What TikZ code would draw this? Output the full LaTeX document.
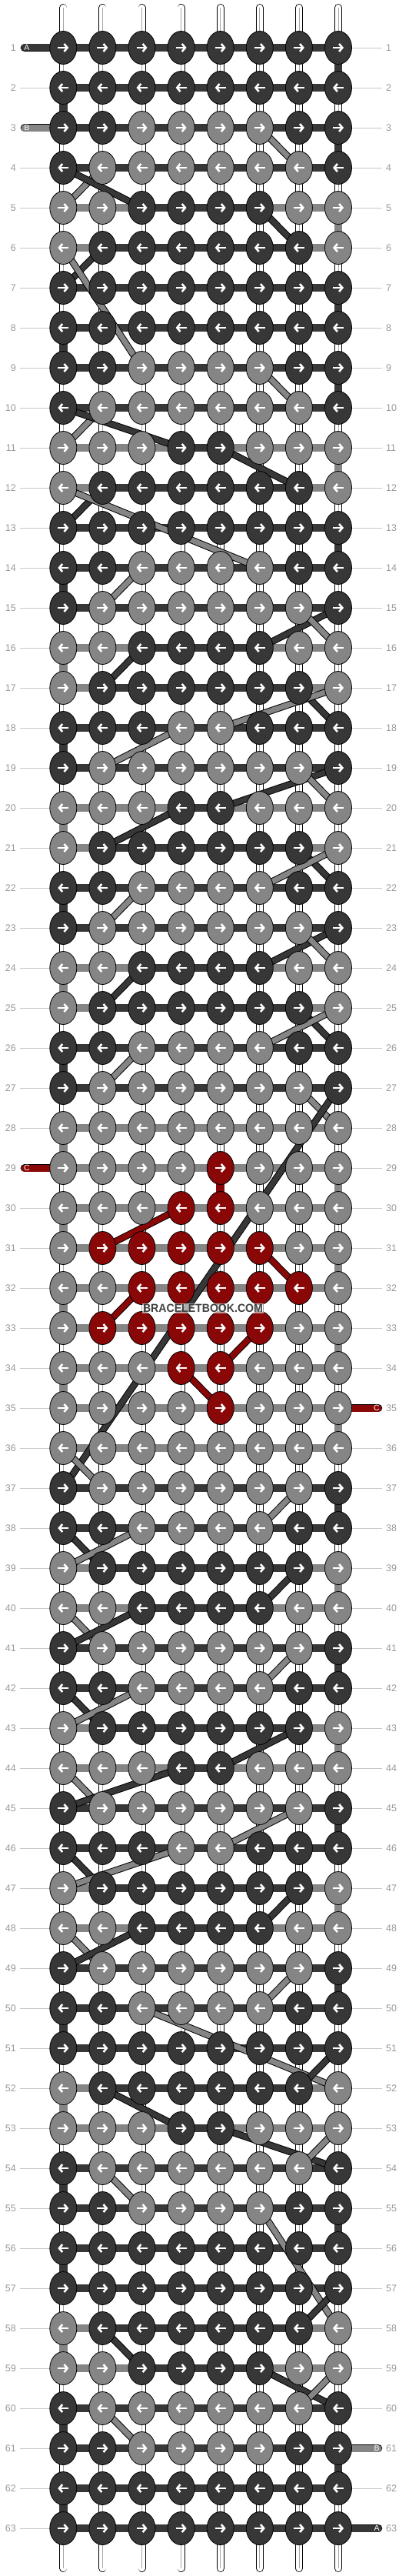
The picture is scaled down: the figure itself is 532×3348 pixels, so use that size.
\documentclass[tikz,border=0pt]{standalone}
\usepackage{fontspec}
\setmainfont{Liberation Sans}
\usetikzlibrary{shapes.geometric, arrows.meta, positioning}
\definecolor{col1}{HTML}{373737}
\definecolor{col2}{HTML}{858585}
\definecolor{col3}{HTML}{8A0707}
\definecolor{numgray}{HTML}{999999}
\definecolor{linegray}{HTML}{C8C8C8}
\pgfdeclarelayer{strings}
\pgfdeclarelayer{bars}
\pgfdeclarelayer{jumps}
\pgfsetlayers{strings,bars,jumps,main}

\begin{document}
\begin{tikzpicture}[x=1pt, y=-1pt,
    knot/.style={ellipse, draw=black, line width=0.8pt, minimum width=35pt,
        minimum height=43pt, inner sep=0pt},
    knotarrow/.style={draw=white, line width=2.6pt, -{Straight Barb[length=4.2pt, width=10pt]}},
    rowno/.style={text=numgray, font=\fontsize{12.5}{14}\selectfont, inner sep=0pt},
    rowline/.style={draw=linegray, line width=0.9pt},
    bar/.style={line width=9.5pt},
    turn/.style={line width=10.5pt},
    jumpout/.style={draw=black, line width=9pt},
    jumpin/.style={line width=7pt},
    stringout/.style={draw=black, line width=10pt, line cap=round},
    stringin/.style={draw=white, line width=8.4pt, line cap=round},
    stringmid/.style={draw=black!35, line width=0.7pt},
    tailout/.style={draw=black, line width=10.5pt, line cap=round},
    tailin/.style={line width=9pt, line cap=round},
    taillabel/.style={text=white, font=\fontsize{10.5}{12}\selectfont, inner sep=0pt},
    watermark/.style={font=\bfseries\fontsize{15}{15}\selectfont, text=col1!95,
        fill=white, fill opacity=0.6, text opacity=1, inner sep=1.2pt}]

  \useasboundingbox (0,0) rectangle (532,3348);

  % knots, row by row (1 = dark, 2 = grey, 3 = red)
  \foreach [count=\r] \row in {
      {1,1,1,1,1,1,1,1}, {1,1,1,1,1,1,1,1}, {1,1,2,2,2,2,1,1}, {1,2,2,2,2,2,2,1},
      {2,2,1,1,1,1,2,2}, {2,1,1,1,1,1,1,2}, {1,1,1,1,1,1,1,1}, {1,1,1,1,1,1,1,1},
      {1,1,2,2,2,2,1,1}, {1,2,2,2,2,2,2,1}, {2,2,2,1,1,2,2,2}, {2,1,1,1,1,1,1,2},
      {1,1,1,1,1,1,1,1}, {1,1,2,2,2,2,1,1}, {1,2,2,2,2,2,2,1}, {2,2,1,1,1,1,2,2},
      {2,1,1,1,1,1,1,2}, {1,1,1,2,2,1,1,1}, {1,2,2,2,2,2,2,1}, {2,2,2,1,1,2,2,2},
      {2,1,1,1,1,1,1,2}, {1,1,2,2,2,2,1,1}, {1,2,2,2,2,2,2,1}, {2,2,1,1,1,1,2,2},
      {2,1,1,1,1,1,1,2}, {1,1,2,2,2,2,1,1}, {1,2,2,2,2,2,2,1}, {2,2,2,2,2,2,2,2},
      {2,2,2,2,3,2,2,2}, {2,2,2,3,3,2,2,2}, {2,3,3,3,3,3,2,2}, {2,2,3,3,3,3,3,2},
      {2,3,3,3,3,3,2,2}, {2,2,2,3,3,2,2,2}, {2,2,2,2,3,2,2,2}, {2,2,2,2,2,2,2,2},
      {1,2,2,2,2,2,2,1}, {1,1,2,2,2,2,1,1}, {2,1,1,1,1,1,1,2}, {2,2,1,1,1,1,2,2},
      {1,2,2,2,2,2,2,1}, {1,1,2,2,2,2,1,1}, {2,1,1,1,1,1,1,2}, {2,2,2,1,1,2,2,2},
      {1,2,2,2,2,2,2,1}, {1,1,1,2,2,1,1,1}, {2,1,1,1,1,1,1,2}, {2,2,1,1,1,1,2,2},
      {1,2,2,2,2,2,2,1}, {1,1,2,2,2,2,1,1}, {1,1,1,1,1,1,1,1}, {2,1,1,1,1,1,1,2},
      {2,2,2,1,1,2,2,2}, {1,2,2,2,2,2,2,1}, {1,1,2,2,2,2,1,1}, {1,1,1,1,1,1,1,1},
      {1,1,1,1,1,1,1,1}, {2,1,1,1,1,1,1,2}, {2,2,1,1,1,1,2,2}, {1,2,2,2,2,2,2,1},
      {1,1,2,2,2,2,1,1}, {1,1,1,1,1,1,1,1}, {1,1,1,1,1,1,1,1}}{
    \pgfmathsetmacro\yy{62+(\r-1)*52}
    \pgfmathsetmacro\sg{mod(\r,2)==1 ? 1 : -1}
    \coordinate (el-\r) at (26,\yy);
    \coordinate (er-\r) at (497,\yy);
    \node[rowno, anchor=east] (nl-\r) at (21,\yy) {\r};
    \node[rowno, anchor=west] (nr-\r) at (502,\yy) {\r};
    \foreach [count=\c] \k in \row {
      \node[knot, fill=col\k] (k-\r-\c) at ({82.3+(\c-1)*51.1},\yy) {};
      \draw[knotarrow] (k-\r-\c.center) ++({-7*(\sg)},0) -- ++({14*(\sg)},0);
      \expandafter\xdef\csname kc-\r-\c\endcsname{\k}
    }
  }

  % base strings and row guide lines
  \begin{pgfonlayer}{strings}
    \foreach \c in {1,...,8} {
      \coordinate (st-\c) at ({82.3+(\c-1)*51.1},10);
      \coordinate (sb-\c) at ({82.3+(\c-1)*51.1},3338);
      \draw[stringout] (st-\c) -- (sb-\c);
      \draw[stringin] (st-\c) -- (sb-\c);
      \draw[stringmid] (st-\c) -- (sb-\c);
    }
    \foreach \r in {1,...,63} {
      \draw[rowline] (el-\r) -- (k-\r-1.center);
      \draw[rowline] (k-\r-8.center) -- (er-\r);
    }
  \end{pgfonlayer}

  % carried threads
  \begin{pgfonlayer}{bars}
    \foreach \r in {1,...,63} {
      \edef\kf{\csname kc-\r-1\endcsname}
      \foreach \c [evaluate=\c as \n using int(\c+1)] in {1,...,7} {
        \edef\ka{\csname kc-\r-\c\endcsname}
        \edef\kb{\csname kc-\r-\n\endcsname}
        \pgfmathtruncatemacro\bc{or(\kf==1, and(\ka==1, \kb==1)) ? 1 : 2}
        \draw[bar, draw=col\bc] (k-\r-\c.center) -- (k-\r-\n.center);
      }
    }
    % turns at the edges
    \foreach \r/\c/\k [evaluate=\r as \n using int(\r+1)] in {1/8/1, 2/1/1, 3/8/1,
        5/8/2, 7/8/1, 8/1/1, 9/8/1, 11/8/2, 13/8/1, 14/1/1, 16/1/2, 18/1/1, 20/1/2,
        22/1/1, 24/1/2, 26/1/1, 28/1/2, 29/8/2, 29/5/3, 30/1/2, 31/8/2, 32/1/2,
        33/8/2, 34/1/2, 35/8/2, 37/8/1, 39/8/2, 41/8/1, 43/8/2, 45/8/1, 47/8/2,
        49/8/1, 50/1/1, 52/1/2, 54/1/1, 55/8/1, 56/1/1, 58/1/2, 60/1/1, 61/8/1, 62/1/1}
      \draw[turn, draw=col\k] (k-\r-\c.center) -- (k-\n-\c.center);
    % loose ends
    \foreach \r/\k/\t in {1/1/A, 3/2/B, 29/3/C} {
      \coordinate (tl-\r) at (32,{62+(\r-1)*52});
      \draw[tailout] (tl-\r) -- (k-\r-1.center);
      \draw[tailin, draw=col\k] (tl-\r) -- (k-\r-1.center);
      \node[taillabel] (ll-\r) at (35,{62+(\r-1)*52}) {\t};
    }
    \foreach \r/\k/\t in {35/3/C, 61/2/B, 63/1/A} {
      \coordinate (tr-\r) at (492,{62+(\r-1)*52});
      \draw[tailout] (k-\r-8.center) -- (tr-\r);
      \draw[tailin, draw=col\k] (k-\r-8.center) -- (tr-\r);
      \node[taillabel] (lr-\r) at (490,{62+(\r-1)*52}) {\t};
    }
  \end{pgfonlayer}

  % threads jumping between rows
  \begin{pgfonlayer}{jumps}
    \foreach \ra/\ca/\rb/\cb/\k in {3/6/4/7/2, 4/2/5/1/2, 4/1/5/3/1, 5/6/6/7/1,
        6/2/7/1/1, 6/1/9/3/2, 9/6/10/7/2, 10/2/11/1/2, 10/1/11/4/1, 11/5/12/7/1,
        12/2/13/1/1, 12/1/14/6/2, 14/3/15/2/2, 15/8/16/6/1, 15/7/16/8/2, 16/3/17/2/1,
        17/7/18/8/1, 17/8/18/5/2, 18/4/19/2/2, 19/8/20/5/1, 19/7/20/8/2, 20/4/21/2/1,
        21/7/22/8/1, 21/8/22/6/2, 22/3/23/2/2, 23/8/24/6/1, 23/7/24/8/2, 24/3/25/2/1,
        25/7/26/8/1, 25/8/26/6/2, 26/3/27/2/2, 27/7/28/8/2, 27/8/37/1/1,
        30/4/31/2/3, 31/6/32/7/3, 32/3/33/2/3, 33/6/34/5/3, 34/4/35/5/3,
        36/1/37/2/2, 37/7/38/6/2, 38/1/39/2/1, 38/3/39/1/2, 39/7/40/6/1, 40/1/41/2/2,
        40/3/41/1/1, 41/7/42/6/2, 42/1/43/2/1, 42/3/43/1/2, 43/7/44/5/1, 44/1/45/2/2,
        44/4/45/1/1, 45/7/46/5/2, 46/1/47/2/1, 46/4/47/1/2, 47/7/48/6/1, 48/1/49/2/2,
        48/3/49/1/1, 49/7/50/6/2, 50/3/52/8/2, 51/8/52/7/1, 52/2/53/4/1, 53/5/54/8/1,
        53/8/54/7/2, 54/2/55/3/2, 55/6/58/8/2, 57/8/58/7/1, 58/2/59/3/1, 59/6/60/8/1,
        59/8/60/7/2, 60/2/61/3/2} {
      \draw[jumpout] (k-\ra-\ca.center) -- (k-\rb-\cb.center);
      \draw[jumpin, draw=col\k] (k-\ra-\ca.center) -- (k-\rb-\cb.center);
    }
  \end{pgfonlayer}

  \node[watermark] (mark) at (264,1700) {\scalebox{0.94}[1]{BRACELETBOOK.COM}};

\end{tikzpicture}
\end{document}
